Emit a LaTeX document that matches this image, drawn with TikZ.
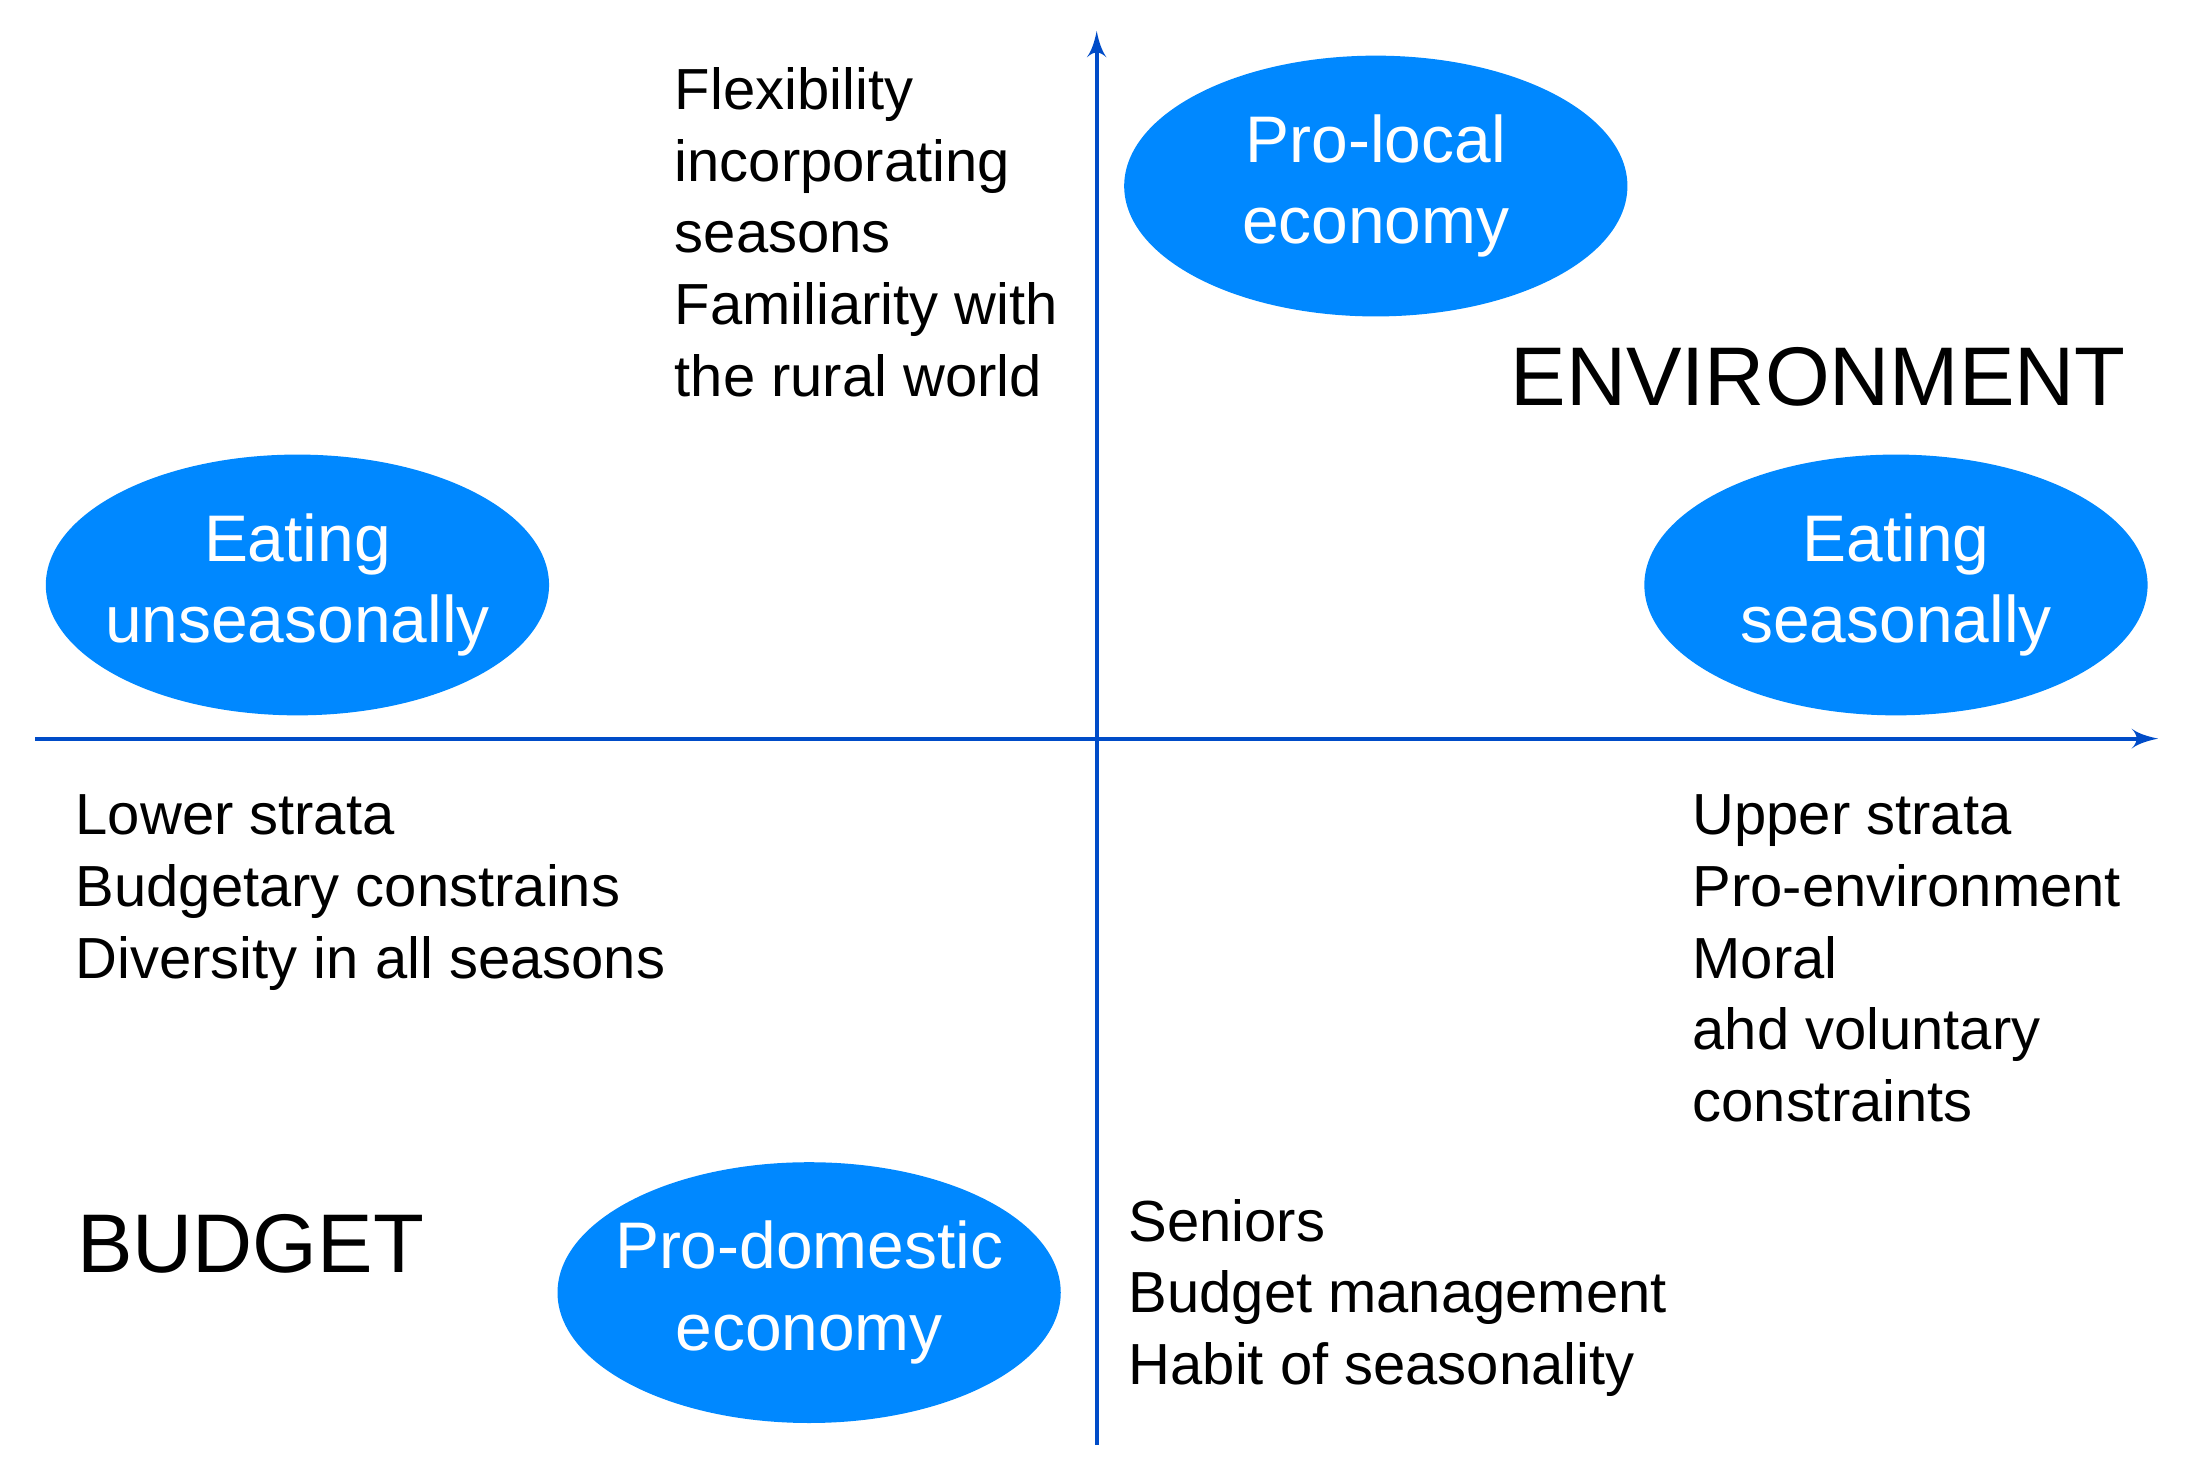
\documentclass[tikz,border=0pt]{standalone}
\usepackage{fontspec}
\setmainfont{Liberation Sans}
\usetikzlibrary{arrows,shapes}
\definecolor{blobblue}{RGB}{0,136,255}
\definecolor{axisblue}{RGB}{0,76,200}

\begin{document}
\begin{tikzpicture}[
		blob/.style={ellipse, fill=blobblue, text=white, minimum width=3.57cm, minimum height=1.85cm, inner xsep=-1cm, inner ysep=-0.5cm, align=center, font=\fontsize{13.3}{16.5}\selectfont},
		facts/.style={anchor=north west, inner sep=0, align=left, font=\fontsize{11.7}{14.5}\selectfont},
		big/.style={anchor=north west, inner sep=0, font=\fontsize{16.8}{20}\selectfont},
		axis/.style={-latex', draw=axisblue, line width=0.85pt}]
		\useasboundingbox (0,0) rectangle (15.6,10.4);

		\coordinate (xL) at (0.25, 5.16);
		\coordinate (xR) at (15.31, 5.16);
		\coordinate (yB) at (7.78, 0.15);
		\coordinate (yT) at (7.78, 10.18);
		\draw[axis] (xL) -- (xR);
		\draw[axis] (yB) -- (yT);

		\node[blob] (local) at (9.76, 9.08) {Pro-local\\economy};
		\node[blob] (unseason) at (2.11, 6.25) {Eating\\unseasonally};
		\node[blob] (season) at (13.45, 6.25) {Eating\\seasonally};
		\node[blob] (domestic) at (5.74, 1.23) {Pro-domestic\\economy};

		\node[big] (env) at (10.71, 7.94) {ENVIRONMENT};
		\node[big] (budget) at (0.54, 1.79) {BUDGET};

		\node[facts] (flex) at (4.78, 9.93) {Flexibility\\incorporating\\seasons\\Familiarity with\\the rural world};
		\node[facts] (lower) at (0.53, 4.77) {Lower strata\\Budgetary constrains\\Diversity in all seasons};
		\node[facts] (upper) at (12.00, 4.77) {Upper strata\\Pro-environment\\Moral\\ahd voluntary\\constraints};
		\node[facts] (seniors) at (8.00, 1.90) {Seniors\\Budget management\\Habit of seasonality};
	\end{tikzpicture}
\end{document}
